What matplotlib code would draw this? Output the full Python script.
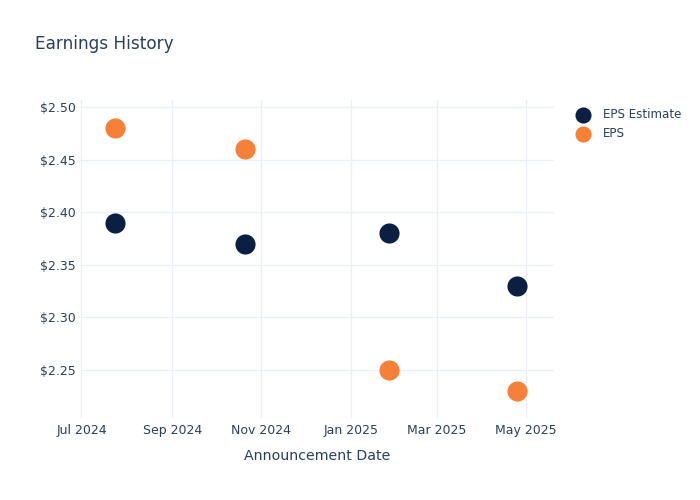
import matplotlib
matplotlib.use("Agg")
import matplotlib.pyplot as plt
import matplotlib.dates as mdates
from matplotlib.ticker import FuncFormatter
import pandas as pd

# Earnings announcements
dates = ["2024-07-24", "2024-10-21", "2025-01-27", "2025-04-25"]
eps_estimate = [2.39, 2.37, 2.38, 2.33]
eps_actual = [2.48, 2.46, 2.25, 2.23]

text_color = "#2a3f5f"
grid_color = "#ebf0f8"
navy = "#0b1f42"
orange = "#f68038"

x = pd.to_datetime(dates)

fig = plt.figure(figsize=(7, 5), dpi=100)
ax = fig.add_axes([80 / 700, 1 - 418 / 500, 474 / 700, 318 / 500])

ax.scatter(x, eps_estimate, s=210, color=navy, label="EPS Estimate", zorder=3, linewidths=0)
ax.scatter(x, eps_actual, s=210, color=orange, label="EPS", zorder=3, linewidths=0)

ax.set_xlim(pd.Timestamp("2024-06-30"), pd.Timestamp("2025-05-20"))
ax.set_ylim(2.2045, 2.5066)

ax.xaxis.set_major_locator(mdates.MonthLocator(bymonth=[1, 3, 5, 7, 9, 11]))
ax.xaxis.set_major_formatter(mdates.DateFormatter("%b %Y"))
ax.set_yticks([2.25, 2.30, 2.35, 2.40, 2.45, 2.50])
ax.yaxis.set_major_formatter(FuncFormatter(lambda v, p: f"${v:.2f}"))

ax.grid(True, color=grid_color, linewidth=1)
ax.set_axisbelow(True)
for s in ax.spines.values():
    s.set_visible(False)
ax.tick_params(axis="both", length=0, labelsize=9, labelcolor=text_color)
ax.tick_params(axis="y", pad=3)
ax.tick_params(axis="x", pad=4)

ax.set_xlabel("Announcement Date", fontsize=10.2, color=text_color, labelpad=9)
fig.text(35 / 700, 1 - 44 / 500, "Earnings History", fontsize=12.2, color=text_color, va="center", ha="left")

fig.legend(loc="upper left", bbox_to_anchor=(569 / 700, 1 - 103 / 500), frameon=False,
           fontsize=8.6, labelcolor=text_color, handlelength=1.6, handletextpad=0.85,
           labelspacing=0.52, markerscale=0.8, borderaxespad=0)

fig.savefig("out.png", dpi=100)
